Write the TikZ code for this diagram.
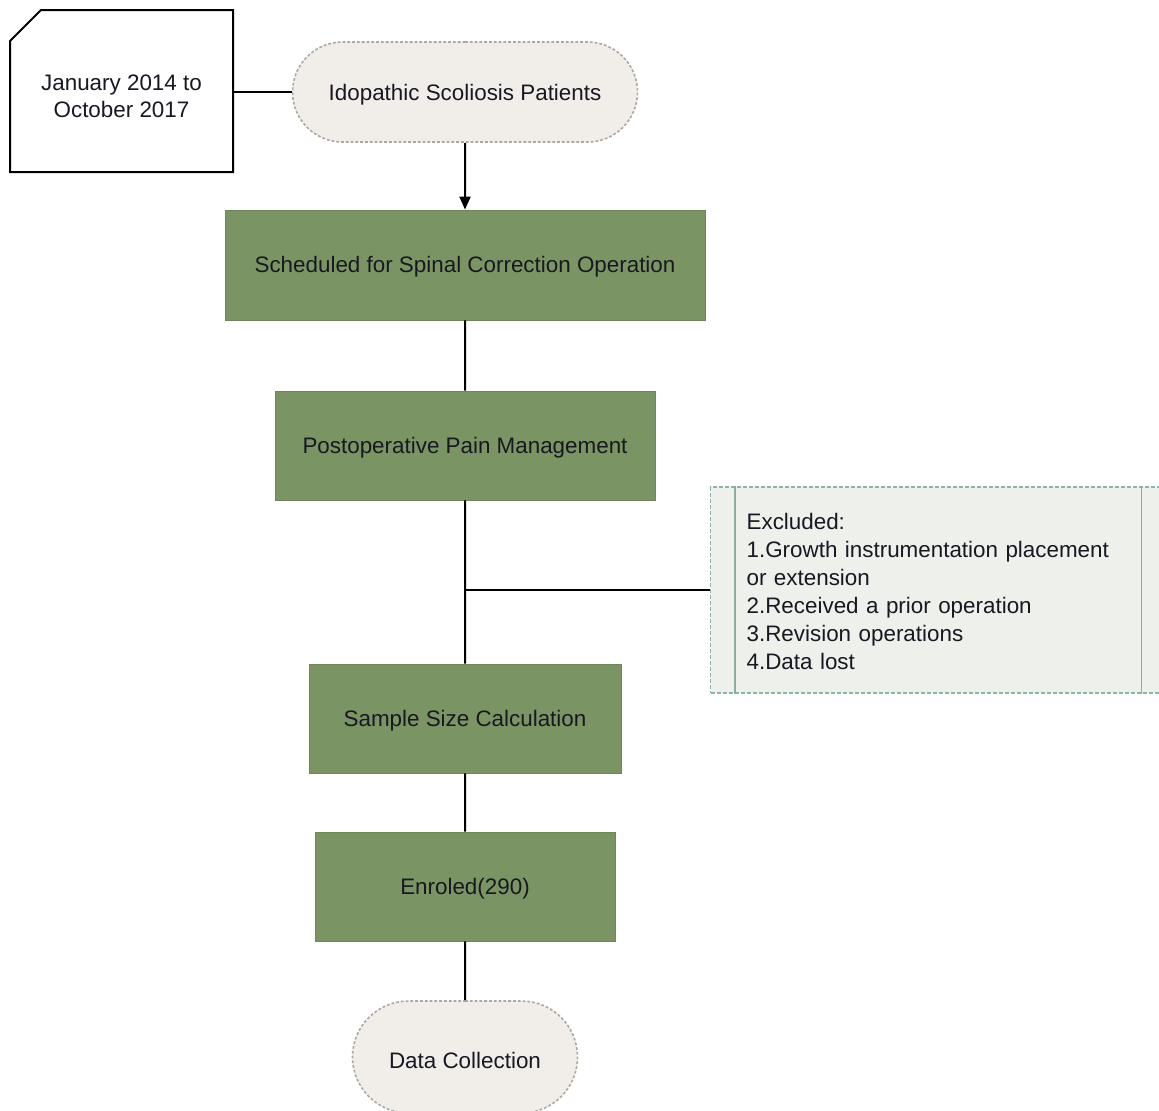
\documentclass[tikz,border=0pt]{standalone}
\usepackage{fontspec}
\setmainfont{Liberation Sans}
\usetikzlibrary{positioning,calc,shapes.misc,arrows.meta}
\definecolor{stepgreen}{RGB}{122,149,99}
\definecolor{termfill}{RGB}{241,238,233}
\definecolor{termline}{RGB}{172,168,162}
\definecolor{exclfill}{RGB}{237,240,235}
\definecolor{exclline}{RGB}{140,180,168}
\definecolor{textdark}{RGB}{24,24,34}
\newcommand{\lowered}[2]{\raisebox{-#1}[\height][\depth]{#2}}
\tikzset{
  stepbox/.style={shape=rectangle,fill=stepgreen,draw=stepgreen!90!black,
    line width=0.4pt,inner sep=0pt,text=textdark},
  terminal/.style={shape=rounded rectangle,fill=termfill,draw=termline,
    dash pattern=on 1.4pt off 1pt,line width=0.8pt,inner sep=0pt,text=textdark},
  datebox/.style={shape=chamfered rectangle,chamfered rectangle corners=north west,
    chamfered rectangle xsep=6.5pt,chamfered rectangle ysep=9pt,
    draw=black,fill=white,line width=1pt,inner sep=0pt,align=center,text=textdark},
  exclbox/.style={shape=rectangle,fill=exclfill,draw=exclline,
    dash pattern=on 2pt off 1pt,line width=0.6pt,align=left,text width=191.5pt,
    inner xsep=18pt,inner ysep=0pt,text=textdark},
  link/.style={draw=black,line width=1pt}
}

\begin{document}
\begin{tikzpicture}[x=0.5pt,y=-0.5pt,font=\fontsize{11.2}{14}\selectfont]
    \clip (0,0) rectangle (1159,1110);
    \fill[white] (0,0) rectangle (1159,1110);
    \node (date) [datebox,minimum width=111.5pt,minimum height=81pt] at (121.5,91)
      {\lowered{2.5pt}{\shortstack{January 2014 to\\October 2017}}};
    \node (start) [terminal,minimum width=172.5pt,minimum height=50pt] at (465,92)
      {\lowered{1.5pt}{Idopathic Scoliosis Patients}};
    \node (sched) [stepbox,minimum width=240pt,minimum height=55pt] at (465,265)
      {\lowered{1pt}{Scheduled for Spinal Correction Operation}};
    \node (pain) [stepbox,minimum width=190pt,minimum height=54.5pt] at (465,445.5)
      {\lowered{1pt}{Postoperative Pain Management}};
    \node (excl) [exclbox,minimum width=227.5pt,minimum height=103pt,anchor=west] at (710,590)
      {\lowered{2pt}{\begin{tabular}{@{}l@{}}Excluded:\\1.Growth instrumentation placement\\
       or extension\\2.Received a prior operation\\3.Revision operations\\4.Data lost\end{tabular}}};
    \node (sample) [stepbox,minimum width=156pt,minimum height=54.5pt] at (465,718.5)
      {\lowered{1pt}{Sample Size Calculation}};
    \node (enrol) [stepbox,minimum width=150pt,minimum height=54.5pt] at (465,886.5)
      {\lowered{1pt}{Enroled(290)}};
    \node (collect) [terminal,minimum width=112.5pt,minimum height=56pt] at (465,1057)
      {\lowered{1.5pt}{Data Collection}};
    % inner rules of the exclusion box
    \draw[exclline!85!gray,line width=0.6pt] ($(excl.north west)+(25,0)$) -- ($(excl.south west)+(25,0)$);
    \draw[exclline!85!gray,line width=0.6pt] ($(excl.north east)+(-25,0)$) -- ($(excl.south east)+(-25,0)$);
    \coordinate (junc) at (pain.south |- excl.west);
    \draw[link] (date.east |- start.west) -- (start.west);
    \draw[link,-{Triangle[width=5.5pt,length=6.5pt]}] (start) -- (sched);
    \draw[link] (sched) -- (pain) (pain) -- (sample) (sample) -- (enrol) (enrol) -- (collect);
    \draw[link] (junc) -- (excl.west);
\end{tikzpicture}
\end{document}
